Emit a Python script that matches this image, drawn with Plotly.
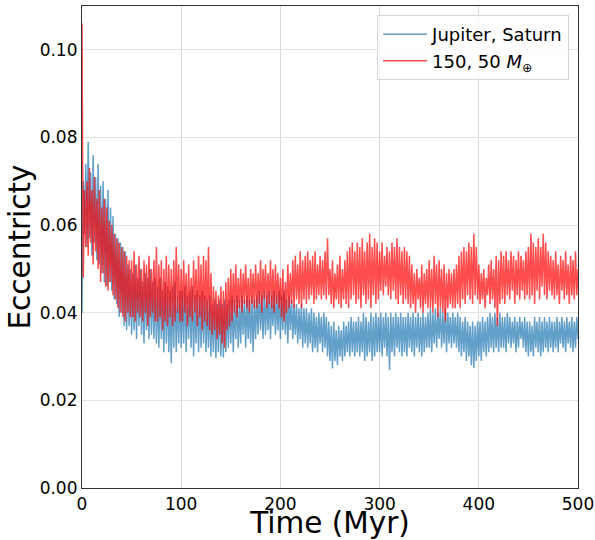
import numpy as np
import plotly.graph_objects as go

# Sample times (Myr), every 1.25 Myr
time_myr = np.arange(0, 500.001, 1.25)

# Eccentricity, Jupiter & Saturn
ecc_jupiter_saturn = [
    0.040, 0.070, 0.058, 0.074, 0.055, 0.079, 0.057, 0.072, 0.053, 0.076, 0.056, 0.071, 0.052, 0.074, 0.051, 0.069, 0.049, 0.070, 0.047, 0.066,
    0.046, 0.068, 0.047, 0.064, 0.045, 0.062, 0.043, 0.058, 0.042, 0.057, 0.039, 0.056, 0.040, 0.055, 0.037, 0.054, 0.036, 0.051, 0.037, 0.050,
    0.035, 0.049, 0.036, 0.051, 0.034, 0.048, 0.037, 0.050, 0.035, 0.047, 0.033, 0.049, 0.036, 0.048, 0.034, 0.050, 0.035, 0.047, 0.034, 0.048,
    0.033, 0.046, 0.032, 0.048, 0.034, 0.045, 0.031, 0.047, 0.033, 0.046, 0.031, 0.045, 0.0285, 0.046, 0.032, 0.047, 0.031, 0.044, 0.033, 0.045,
    0.032, 0.045, 0.033, 0.046, 0.031, 0.044, 0.034, 0.045, 0.032, 0.046, 0.030, 0.044, 0.033, 0.045, 0.031, 0.044, 0.032, 0.045, 0.033, 0.044,
    0.031, 0.043, 0.032, 0.044, 0.030, 0.042, 0.031, 0.043, 0.0296, 0.042, 0.031, 0.043, 0.030, 0.042, 0.0298, 0.043, 0.031, 0.042, 0.032, 0.043,
    0.033, 0.044, 0.031, 0.043, 0.034, 0.044, 0.032, 0.043, 0.033, 0.044, 0.035, 0.043, 0.032, 0.044, 0.034, 0.043, 0.033, 0.044, 0.031, 0.043,
    0.034, 0.044, 0.035, 0.045, 0.036, 0.044, 0.034, 0.045, 0.035, 0.044, 0.036, 0.045, 0.034, 0.044, 0.037, 0.045, 0.035, 0.044, 0.036, 0.045,
    0.034, 0.044, 0.036, 0.045, 0.035, 0.043, 0.033, 0.044, 0.036, 0.043, 0.034, 0.042, 0.035, 0.042, 0.033, 0.041, 0.034, 0.042, 0.032, 0.041,
    0.033, 0.041, 0.032, 0.040, 0.033, 0.041, 0.031, 0.040, 0.032, 0.039, 0.031, 0.040, 0.033, 0.039, 0.031, 0.040, 0.032, 0.039, 0.030, 0.038,
    0.029, 0.037, 0.0273, 0.038, 0.029, 0.036, 0.028, 0.037, 0.030, 0.036, 0.029, 0.038, 0.030, 0.037, 0.031, 0.038, 0.030, 0.039, 0.031, 0.038,
    0.030, 0.038, 0.031, 0.039, 0.030, 0.038, 0.031, 0.040, 0.029, 0.039, 0.030, 0.038, 0.031, 0.040, 0.029, 0.039, 0.030, 0.040, 0.031, 0.039,
    0.031, 0.040, 0.030, 0.039, 0.032, 0.040, 0.030, 0.039, 0.0269, 0.040, 0.031, 0.039, 0.030, 0.040, 0.032, 0.039, 0.031, 0.040, 0.030, 0.039,
    0.031, 0.039, 0.030, 0.040, 0.032, 0.039, 0.031, 0.040, 0.030, 0.039, 0.032, 0.040, 0.031, 0.039, 0.030, 0.040, 0.031, 0.039, 0.032, 0.040,
    0.032, 0.041, 0.031, 0.040, 0.033, 0.041, 0.032, 0.040, 0.034, 0.041, 0.032, 0.040, 0.033, 0.041, 0.031, 0.040, 0.033, 0.039, 0.032, 0.040,
    0.033, 0.039, 0.032, 0.040, 0.031, 0.039, 0.030, 0.038, 0.031, 0.039, 0.029, 0.038, 0.030, 0.037, 0.028, 0.038, 0.0274, 0.037, 0.029, 0.038,
    0.030, 0.038, 0.029, 0.039, 0.031, 0.038, 0.030, 0.039, 0.031, 0.040, 0.032, 0.039, 0.031, 0.040, 0.032, 0.039, 0.031, 0.040, 0.032, 0.039,
    0.032, 0.039, 0.031, 0.040, 0.033, 0.039, 0.032, 0.038, 0.033, 0.039, 0.031, 0.038, 0.032, 0.039, 0.034, 0.038, 0.032, 0.039, 0.031, 0.038,
    0.030, 0.038, 0.031, 0.037, 0.030, 0.039, 0.032, 0.038, 0.031, 0.039, 0.030, 0.038, 0.031, 0.039, 0.032, 0.038, 0.031, 0.039, 0.032, 0.038,
    0.031, 0.038, 0.032, 0.039, 0.031, 0.038, 0.033, 0.039, 0.032, 0.038, 0.031, 0.039, 0.033, 0.038, 0.032, 0.039, 0.031, 0.038, 0.032, 0.039,
    0.034,
]

# Eccentricity, 150 and 50 Earth-mass planets
ecc_150_50 = [
    0.106, 0.048, 0.068, 0.055, 0.070, 0.053, 0.073, 0.056, 0.068, 0.051, 0.071, 0.054, 0.066, 0.050, 0.068, 0.047, 0.064, 0.049, 0.066, 0.046,
    0.064, 0.045, 0.061, 0.047, 0.060, 0.044, 0.058, 0.043, 0.057, 0.041, 0.056, 0.040, 0.055, 0.039, 0.054, 0.038, 0.053, 0.040, 0.052, 0.039,
    0.052, 0.039, 0.054, 0.038, 0.051, 0.040, 0.053, 0.039, 0.050, 0.038, 0.052, 0.040, 0.051, 0.037, 0.053, 0.039, 0.050, 0.040, 0.052, 0.038,
    0.055, 0.038, 0.051, 0.039, 0.052, 0.036, 0.050, 0.038, 0.053, 0.037, 0.051, 0.039, 0.050, 0.037, 0.052, 0.038, 0.055, 0.040, 0.051, 0.038,
    0.050, 0.038, 0.052, 0.040, 0.049, 0.037, 0.051, 0.039, 0.048, 0.038, 0.052, 0.040, 0.050, 0.037, 0.053, 0.039, 0.051, 0.036, 0.053, 0.038,
    0.052, 0.037, 0.055, 0.036, 0.049, 0.035, 0.046, 0.036, 0.045, 0.034, 0.044, 0.035, 0.046, 0.033, 0.045, 0.032, 0.047, 0.036, 0.048, 0.037,
    0.050, 0.038, 0.049, 0.040, 0.051, 0.039, 0.048, 0.041, 0.050, 0.040, 0.049, 0.042, 0.051, 0.041, 0.048, 0.040, 0.050, 0.042, 0.049, 0.041,
    0.051, 0.041, 0.049, 0.042, 0.052, 0.040, 0.050, 0.043, 0.051, 0.041, 0.049, 0.042, 0.052, 0.041, 0.050, 0.040, 0.051, 0.042, 0.049, 0.041,
    0.048, 0.039, 0.050, 0.038, 0.047, 0.040, 0.051, 0.041, 0.049, 0.042, 0.052, 0.041, 0.053, 0.043, 0.051, 0.042, 0.054, 0.041, 0.052, 0.043,
    0.053, 0.042, 0.054, 0.043, 0.052, 0.044, 0.053, 0.042, 0.054, 0.043, 0.051, 0.044, 0.053, 0.043, 0.052, 0.044, 0.054, 0.043, 0.057, 0.044,
    0.050, 0.042, 0.052, 0.041, 0.049, 0.043, 0.051, 0.042, 0.053, 0.041, 0.050, 0.043, 0.052, 0.042, 0.054, 0.041, 0.055, 0.043, 0.056, 0.044,
    0.054, 0.042, 0.056, 0.043, 0.055, 0.041, 0.057, 0.044, 0.054, 0.042, 0.056, 0.043, 0.058, 0.041, 0.055, 0.044, 0.057, 0.042, 0.056, 0.043,
    0.054, 0.045, 0.056, 0.044, 0.053, 0.046, 0.055, 0.044, 0.054, 0.043, 0.056, 0.045, 0.055, 0.043, 0.057, 0.042, 0.055, 0.044, 0.054, 0.042,
    0.055, 0.043, 0.054, 0.042, 0.053, 0.041, 0.051, 0.042, 0.049, 0.040, 0.050, 0.043, 0.048, 0.041, 0.051, 0.040, 0.049, 0.042, 0.050, 0.041,
    0.052, 0.041, 0.050, 0.040, 0.053, 0.042, 0.051, 0.039, 0.052, 0.041, 0.050, 0.040, 0.051, 0.038, 0.049, 0.041, 0.050, 0.042, 0.049, 0.041,
    0.050, 0.041, 0.051, 0.042, 0.053, 0.041, 0.054, 0.043, 0.055, 0.042, 0.054, 0.044, 0.056, 0.043, 0.055, 0.042, 0.058, 0.044, 0.055, 0.043,
    0.051, 0.042, 0.049, 0.043, 0.050, 0.041, 0.048, 0.044, 0.051, 0.042, 0.052, 0.043, 0.050, 0.041, 0.053, 0.037, 0.052, 0.042, 0.054, 0.043,
    0.053, 0.042, 0.054, 0.044, 0.052, 0.043, 0.054, 0.045, 0.053, 0.042, 0.052, 0.044, 0.054, 0.043, 0.053, 0.045, 0.052, 0.043, 0.054, 0.044,
    0.055, 0.043, 0.058, 0.044, 0.056, 0.042, 0.055, 0.045, 0.057, 0.043, 0.055, 0.046, 0.058, 0.044, 0.056, 0.043, 0.054, 0.045, 0.053, 0.044,
    0.052, 0.043, 0.054, 0.044, 0.051, 0.042, 0.053, 0.045, 0.052, 0.043, 0.054, 0.044, 0.051, 0.042, 0.053, 0.044, 0.052, 0.043, 0.054, 0.044,
    0.050,
]

x_ticks = [0, 100, 200, 300, 400, 500]
y_ticks = [0.00, 0.02, 0.04, 0.06, 0.08, 0.10]
y_tick_labels = ["0.00", "0.02", "0.04", "0.06", "0.08", "0.10"]

FONT = "DejaVu Sans"

fig = go.Figure()
fig.add_trace(go.Scatter(
    x=time_myr, y=ecc_jupiter_saturn, mode="lines",
    name="Jupiter, Saturn",
    line=dict(color="rgba(31,119,180,0.7)", width=1.5, simplify=False),
))
fig.add_trace(go.Scatter(
    x=time_myr, y=ecc_150_50, mode="lines",
    name="150, 50 <i>M</i><sub>⊕</sub>",
    line=dict(color="rgba(255,0,0,0.7)", width=1.5, simplify=False),
))

fig.update_layout(
    width=595, height=540,
    margin=dict(l=82, r=17, t=6, b=52),
    paper_bgcolor="white", plot_bgcolor="white",
    font=dict(family=FONT, size=17, color="black"),
    showlegend=True,
    legend=dict(
        x=0.982, y=0.981, xanchor="right", yanchor="top",
        bgcolor="rgba(255,255,255,0.8)", bordercolor="#d6d6d6", borderwidth=1,
        font=dict(family=FONT, size=18, color="black"),
        tracegroupgap=0, itemwidth=44,
    ),
)
fig.update_xaxes(
    range=[0, 500], tickvals=x_ticks, automargin=False,
    showgrid=True, gridcolor="#d9d9d9", gridwidth=1,
    showline=True, linecolor="#333333", linewidth=1.2, mirror=True,
    ticks="", zeroline=False,
    title=dict(text="Time (Myr)", font=dict(family=FONT, size=29.5), standoff=4),
)
fig.update_yaxes(
    range=[0, 0.11], tickvals=y_ticks, ticktext=y_tick_labels, automargin=False,
    showgrid=True, gridcolor="#e3e3e3", gridwidth=1,
    showline=True, linecolor="#333333", linewidth=1.2, mirror=True,
    ticks="", zeroline=False,
    title=dict(text="Eccentricty", font=dict(family=FONT, size=29.5), standoff=0),
)

fig.write_html(
    "out.html",
    config={"displayModeBar": False},
    post_script="document.body.style.margin='0px';document.body.style.overflow='hidden';",
)
